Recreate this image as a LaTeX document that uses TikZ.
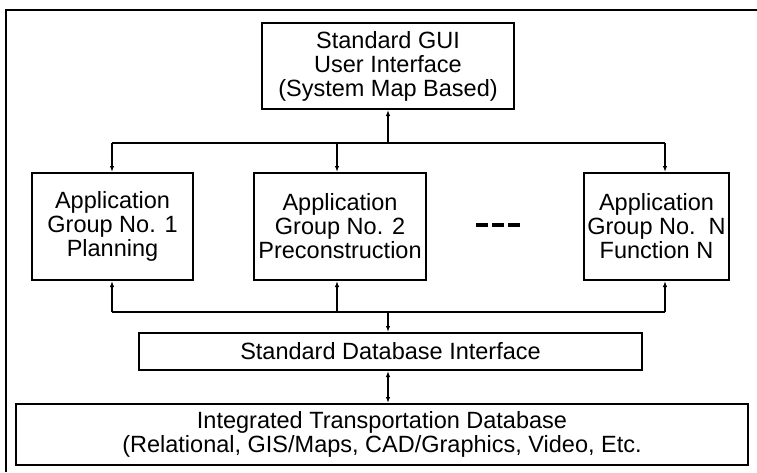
\documentclass[tikz,border=0pt]{standalone}
\usepackage{fontspec}
\setmainfont{Liberation Sans}
\usetikzlibrary{arrows.meta}
\begin{document}
\begin{tikzpicture}[x=1pt,y=-1pt,
  box/.style={draw, line width=2pt, inner sep=0pt, align=center,
    font=\fontsize{23.5}{24}\selectfont},
  conn/.style={line width=1.5pt},
  arr/.style={conn, -{Latex[length=6pt,width=4.5pt]}},
  darr/.style={conn, {Latex[length=6pt,width=4.5pt]}-{Latex[length=6pt,width=4.5pt]}}]
\useasboundingbox (0,0) rectangle (757,472);
% outer frame
\draw[line width=2pt] (6,472) -- (6,10) -- (757,10);
% boxes
\node[box, minimum width=252pt, minimum height=86pt] (gui) at (388,66)
  {Standard GUI\\User Interface\\(System Map Based)};
\node[box, minimum width=161pt, minimum height=107pt] (app1) at (112.5,226.5)
  {Application\\Group No. 1\\Planning};
\node[box, minimum width=172pt, minimum height=107pt] (app2) at (340,226.5)
  {Application\\Group No. 2\\Preconstruction};
\node[box, minimum width=145pt, minimum height=107pt] (appN) at (656.5,226.5)
  {Application\\Group No.\ \ N\\Function N};
\node[box, minimum width=503pt, minimum height=37pt] (dbi) at (390.5,351.5)
  {\raisebox{-3pt}{Standard Database Interface}};
\node[box, minimum width=732pt, minimum height=61pt] (itd) at (382,434.5)
  {Integrated Transportation Database\\(Relational, GIS/Maps, CAD/Graphics, Video, Etc.};
% ellipsis dashes
\draw[line width=3.5pt, dash pattern=on 12pt off 4pt] (476,225) -- (520,225);
% top bus
\coordinate (t1) at (112,143);
\coordinate (t2) at (337,143);
\coordinate (tN) at (665,143);
\coordinate (tG) at (388,143);
\draw[conn] (t1) -- (tN);
\draw[arr] (tG) -- (tG |- gui.south);
\draw[arr] (t1) -- (t1 |- app1.north);
\draw[arr] (t2) -- (t2 |- app2.north);
\draw[arr] (tN) -- (tN |- appN.north);
% bottom bus
\coordinate (b1) at (112,312);
\coordinate (b2) at (337,312);
\coordinate (bN) at (665,312);
\coordinate (bG) at (388,312);
\draw[conn] (b1) -- (bN);
\draw[arr] (b1) -- (b1 |- app1.south);
\draw[arr] (b2) -- (b2 |- app2.south);
\draw[arr] (bN) -- (bN |- appN.south);
\draw[arr] (bG) -- (bG |- dbi.north);
% db link
\coordinate (dI) at (388,385);
\draw[darr] (dI |- dbi.south) -- (dI |- itd.north);
\end{tikzpicture}
\end{document}
